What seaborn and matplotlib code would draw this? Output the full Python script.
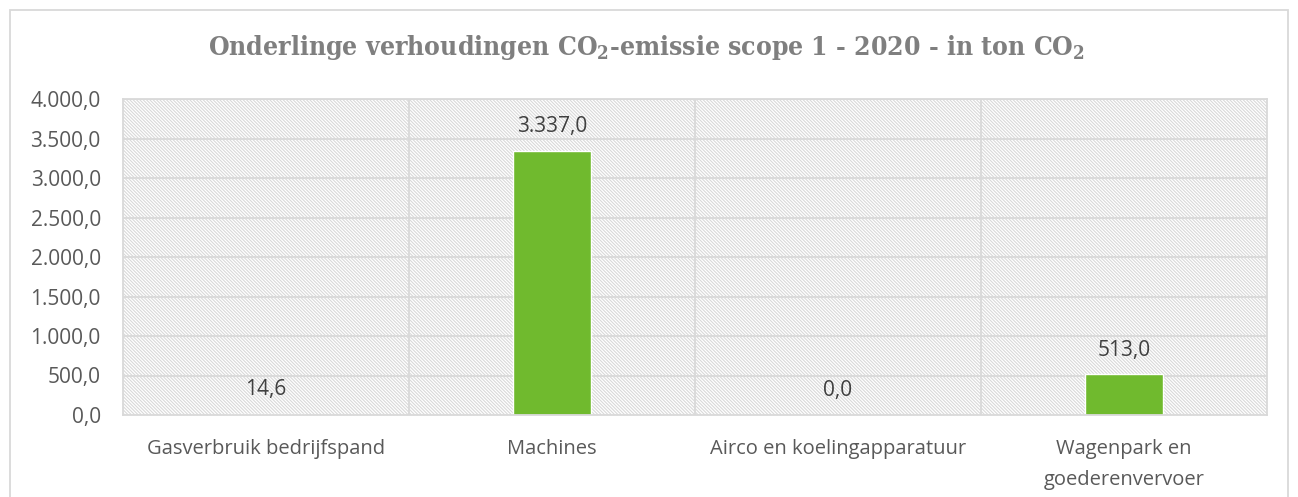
import seaborn as sns
import matplotlib.pyplot as plt
import matplotlib.patches as mpatches
import pandas as pd

categories = ["Gasverbruik bedrijfspand", "Machines", "Airco en koelingapparatuur",
              "Wagenpark en\ngoederenvervoer"]
values = [14.6, 3337.0, 0.0, 513.0]
value_labels = ["14,6", "3.337,0", "0,0", "513,0"]
y_ticks = [0, 500, 1000, 1500, 2000, 2500, 3000, 3500, 4000]
y_ticklabels = ["0,0", "500,0", "1.000,0", "1.500,0", "2.000,0", "2.500,0",
                "3.000,0", "3.500,0", "4.000,0"]

df = pd.DataFrame({"categorie": categories, "ton": values})

sns.set_style("white")
plt.rcParams["font.family"] = ["Open Sans", "DejaVu Sans"]
plt.rcParams["hatch.color"] = "#d4d4d4"
plt.rcParams["hatch.linewidth"] = 0.8

grid_col = "#d9d9d9"
text_col = "#595959"

fig = plt.figure(figsize=(12.98, 4.97), dpi=100)
ax = fig.add_axes([123 / 1298, 1 - 415 / 497, (1267 - 123) / 1298, (415 - 99) / 497])

# hatched plot area background
ax.add_patch(mpatches.Rectangle((0, 0), 1, 1, transform=ax.transAxes, facecolor="white",
                                edgecolor=grid_col, hatch="\\\\\\\\\\\\\\\\\\\\", lw=0, zorder=0))

sns.barplot(data=df, x="categorie", y="ton", color="#70ba2e", width=0.27,
            saturation=1, ax=ax, zorder=3)

ax.set_ylim(0, 4000)
ax.set_xlim(-0.5, 3.5)
ax.set_yticks(y_ticks)
ax.set_yticklabels(y_ticklabels, fontsize=15, color=text_col)
ax.set_xticks(range(len(categories)))
ax.set_xticklabels(categories, fontsize=14.5, color=text_col, linespacing=1.75)
ax.tick_params(axis="x", length=0, pad=17)
ax.tick_params(axis="y", length=0, pad=16)
ax.set_xlabel("")
ax.set_ylabel("")

for y in y_ticks[1:]:
    ax.axhline(y, color=grid_col, lw=1.3, zorder=1)
for x in [0.5, 1.5, 2.5]:
    ax.axvline(x, color=grid_col, lw=1.3, zorder=1)
for s in ["left", "right", "top", "bottom"]:
    ax.spines[s].set_color(grid_col)
    ax.spines[s].set_linewidth(1.3)
ax.spines["bottom"].set_zorder(4)

for i, (v, lab) in enumerate(zip(values, value_labels)):
    ax.annotate(lab, (i, v), xytext=(0, 10), textcoords="offset points",
                ha="center", va="bottom", fontsize=15, color="#404040", zorder=5)

fig.text(0.498, 1 - 48 / 497,
         r"Onderlinge verhoudingen CO$_\mathregular{2}$-emissie scope 1 - 2020 - in ton CO$_\mathregular{2}$",
         ha="center", va="center", fontsize=19, fontweight="bold", color="#7f7f7f",
         family=["DejaVu Serif"], stretch="condensed")

# outer chart border
fig.add_artist(mpatches.Rectangle((10 / 1298, -0.05), 1278 / 1298, 1.05 - 10 / 497,
                                  transform=fig.transFigure, fill=False,
                                  edgecolor=grid_col, lw=1.3))

fig.savefig("out.png", dpi=100)
